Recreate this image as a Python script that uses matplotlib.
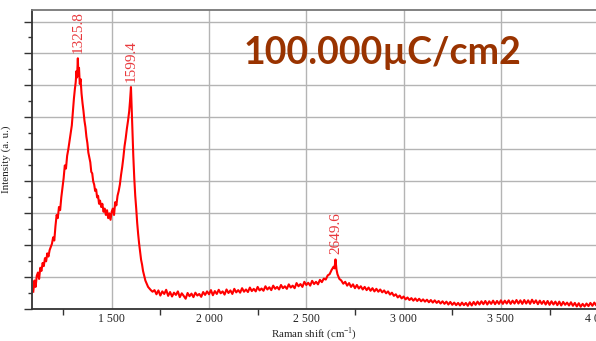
import matplotlib
matplotlib.use("Agg")
import matplotlib.pyplot as plt
from matplotlib.ticker import MultipleLocator, FuncFormatter

# Raman shift (cm^-1) and intensity (a.u.)
shift = [1097, 1103, 1109, 1115, 1121, 1127, 1133, 1139, 1145, 1151, 1157, 1163, 1169, 1175,
         1181, 1187, 1193, 1199, 1205, 1211, 1217, 1223, 1229, 1235, 1241, 1247, 1253, 1259,
         1265, 1271, 1277, 1283, 1289, 1295, 1301, 1306, 1311, 1315, 1319, 1322, 1326, 1329,
         1332, 1336, 1340, 1345, 1350, 1355, 1360, 1365, 1370, 1375, 1380, 1385, 1390, 1395,
         1400, 1405, 1410, 1415, 1420, 1425, 1430, 1435, 1440, 1446, 1452, 1458, 1464, 1470,
         1476, 1482, 1488, 1494, 1500, 1506, 1512, 1518, 1524, 1530, 1536, 1542, 1548, 1554,
         1560, 1566, 1572, 1578, 1584, 1590, 1594, 1599, 1603, 1607, 1611, 1616, 1621, 1626,
         1631, 1636, 1641, 1646, 1651, 1656, 1661, 1667, 1673, 1680, 1687, 1694, 1701, 1710,
         1720, 1730, 1740, 1750, 1760, 1770, 1780, 1790, 1800, 1810, 1820, 1830, 1840, 1850,
         1860, 1870, 1880, 1890, 1900, 1910, 1920, 1930, 1940, 1950, 1960, 1970, 1980, 1990,
         2000, 2010, 2020, 2030, 2040, 2050, 2060, 2070, 2080, 2090, 2100, 2110, 2120, 2130,
         2140, 2150, 2160, 2170, 2180, 2190, 2200, 2210, 2220, 2230, 2240, 2250, 2260, 2270,
         2280, 2290, 2300, 2310, 2320, 2330, 2340, 2350, 2360, 2370, 2380, 2390, 2400, 2410,
         2420, 2430, 2440, 2450, 2460, 2470, 2480, 2490, 2500, 2510, 2520, 2530, 2540, 2550,
         2560, 2570, 2580, 2590, 2600, 2610, 2620, 2630, 2640, 2645, 2650, 2655, 2660, 2670,
         2680, 2690, 2700, 2710, 2720, 2730, 2740, 2750, 2760, 2770, 2780, 2790, 2800, 2810,
         2820, 2830, 2840, 2850, 2860, 2870, 2880, 2890, 2900, 2910, 2920, 2930, 2940, 2950,
         2960, 2970, 2980, 2990, 3000, 3010, 3020, 3030, 3040, 3050, 3060, 3070, 3080, 3090,
         3100, 3110, 3120, 3130, 3140, 3150, 3160, 3170, 3180, 3190, 3200, 3210, 3220, 3230,
         3240, 3250, 3260, 3270, 3280, 3290, 3300, 3310, 3320, 3330, 3340, 3350, 3360, 3370,
         3380, 3390, 3400, 3410, 3420, 3430, 3440, 3450, 3460, 3470, 3480, 3490, 3500, 3510,
         3520, 3530, 3540, 3550, 3560, 3570, 3580, 3590, 3600, 3610, 3620, 3630, 3640, 3650,
         3660, 3670, 3680, 3690, 3700, 3710, 3720, 3730, 3740, 3750, 3760, 3770, 3780, 3790,
         3800, 3810, 3820, 3830, 3840, 3850, 3860, 3870, 3880, 3890, 3900, 3910, 3920, 3930,
         3940, 3950, 3960, 3970, 3980, 3990, 4000]
intensity = [550, 900, 700, 1050, 1150, 950, 1300, 1200, 1450, 1350, 1600, 1500, 1750, 1650,
             1850, 1950, 2050, 2250, 2150, 2600, 2950, 2850, 3200, 3100, 3500, 3800, 4100, 4500,
             4400, 4800, 5000, 5250, 5500, 5750, 6200, 6600, 6900, 7100, 7450, 7250, 7850, 7300,
             7550, 7050, 7200, 6750, 6450, 6200, 5900, 5700, 5400, 5200, 4900, 4750, 4600, 4300,
             4250, 4000, 3900, 3700, 3750, 3500, 3550, 3300, 3400, 3200, 3300, 3050, 3150, 2950,
             3100, 2850, 3000, 2800, 3050, 3150, 2950, 3350, 3250, 3550, 3700, 3900, 4200, 4450,
             4750, 5100, 5350, 5650, 5900, 6200, 6500, 6950, 6200, 5500, 4800, 4100, 3550, 3150,
             2700, 2350, 2050, 1800, 1550, 1400, 1200, 1050, 900, 800, 700, 650, 600, 550,
             600, 470, 590, 430, 560, 480, 610, 420, 540, 400, 520, 450, 560, 380,
             500, 420, 330, 510, 410, 490, 380, 520, 430, 480, 390, 540, 450, 560,
             470, 600, 440, 570, 480, 610, 500, 560, 460, 620, 510, 590, 480, 640,
             530, 600, 520, 660, 550, 620, 540, 680, 570, 640, 560, 700, 590, 650,
             580, 720, 620, 690, 600, 740, 640, 700, 620, 760, 660, 720, 640, 780,
             680, 740, 660, 820, 720, 790, 700, 860, 760, 830, 740, 890, 790, 860,
             780, 920, 850, 960, 930, 1060, 1100, 1230, 1330, 1280, 1560, 1250, 1100, 950,
             900, 800, 860, 740, 820, 700, 780, 660, 760, 650, 720, 620, 700, 600,
             680, 580, 660, 560, 640, 550, 620, 530, 590, 500, 560, 460, 520, 420,
             470, 370, 430, 340, 400, 310, 370, 290, 350, 270, 340, 260, 330, 250,
             310, 240, 300, 220, 290, 210, 280, 200, 260, 180, 250, 170, 240, 150,
             230, 140, 210, 130, 200, 120, 210, 130, 200, 110, 220, 120, 230, 140,
             240, 150, 250, 160, 260, 150, 250, 170, 270, 160, 260, 170, 280, 170,
             270, 180, 280, 170, 270, 180, 290, 180, 280, 170, 290, 180, 280, 170,
             300, 190, 280, 160, 270, 170, 260, 150, 260, 140, 250, 150, 240, 130,
             240, 120, 230, 140, 210, 120, 220, 110, 200, 90, 190, 80, 170, 90,
             180, 100, 200, 110, 210, 120, 190]

peak_pos = [1325.8, 1599.4, 2649.6]
peak_labels = ["1325.8", "1599.4", "2649.6"]
peak_heights = [7850, 6950, 1560]

title_text = "100.000\u00b5C/cm2"

W, H = 596, 341
fig = plt.figure(figsize=(W / 100, H / 100), dpi=100)
left_px, right_px, top_px, bottom_px = 32.3, 598.2, 10.0, 309.3
ax = fig.add_axes([left_px / W, 1 - bottom_px / H, (right_px - left_px) / W, (bottom_px - top_px) / H])

ax.plot(shift, intensity, color="#ff0000", lw=1.5)
ax.set_xlim(1092, 4000)
ax.set_ylim(0, 9360)

ax.xaxis.set_major_locator(MultipleLocator(500))
ax.xaxis.set_minor_locator(MultipleLocator(250))
ax.yaxis.set_major_locator(MultipleLocator(1000))
ax.yaxis.set_minor_locator(MultipleLocator(500))
ax.xaxis.set_major_formatter(FuncFormatter(lambda v, p: f"{int(v):,}".replace(",", " ")))
ax.yaxis.set_major_formatter(FuncFormatter(lambda v, p: ""))

ax.grid(True, which="major", color="#b4b4b4", lw=1.0)
ax.set_axisbelow(True)

ax.tick_params(axis="x", which="major", length=0, pad=3, labelsize=8.5, colors="#222222")
ax.tick_params(axis="x", which="minor", length=4, width=1.0, color="#333333")
ax.tick_params(axis="y", which="major", length=6, width=1.0, color="#333333")
ax.tick_params(axis="y", which="minor", length=3, width=1.0, color="#333333")
for lab in ax.get_xticklabels():
    lab.set_fontfamily("Liberation Serif")

ax.spines["left"].set_color("#333333")
ax.spines["left"].set_linewidth(1.3)
ax.spines["bottom"].set_color("#333333")
ax.spines["bottom"].set_linewidth(1.3)
ax.spines["top"].set_color("#777777")
ax.spines["top"].set_linewidth(1.3)
ax.spines["right"].set_visible(False)

fig.text(314 / W, 1 - 333.8 / H, "Raman shift (cm$^{\\mathregular{-1}}$)", ha="center", va="center",
         fontfamily="Liberation Serif", fontsize=7.8, color="#222222")
ax.set_ylabel("Intensity (a. u.)", fontfamily="Liberation Serif", fontsize=8,
              labelpad=6, color="#222222")

for xp, lab, yh in zip(peak_pos, peak_labels, peak_heights):
    ax.annotate(lab, xy=(xp, yh), xytext=(0, 4), textcoords="offset points",
                rotation=90, ha="center", va="bottom", color="#e8383c",
                fontfamily="Liberation Serif", fontsize=11)

fig.text(383 / W, 1 - 53 / H, title_text, ha="center", va="center",
         fontfamily="Lato", fontweight="bold", fontsize=27, color="#993300")

fig.savefig("out.png", dpi=100)
